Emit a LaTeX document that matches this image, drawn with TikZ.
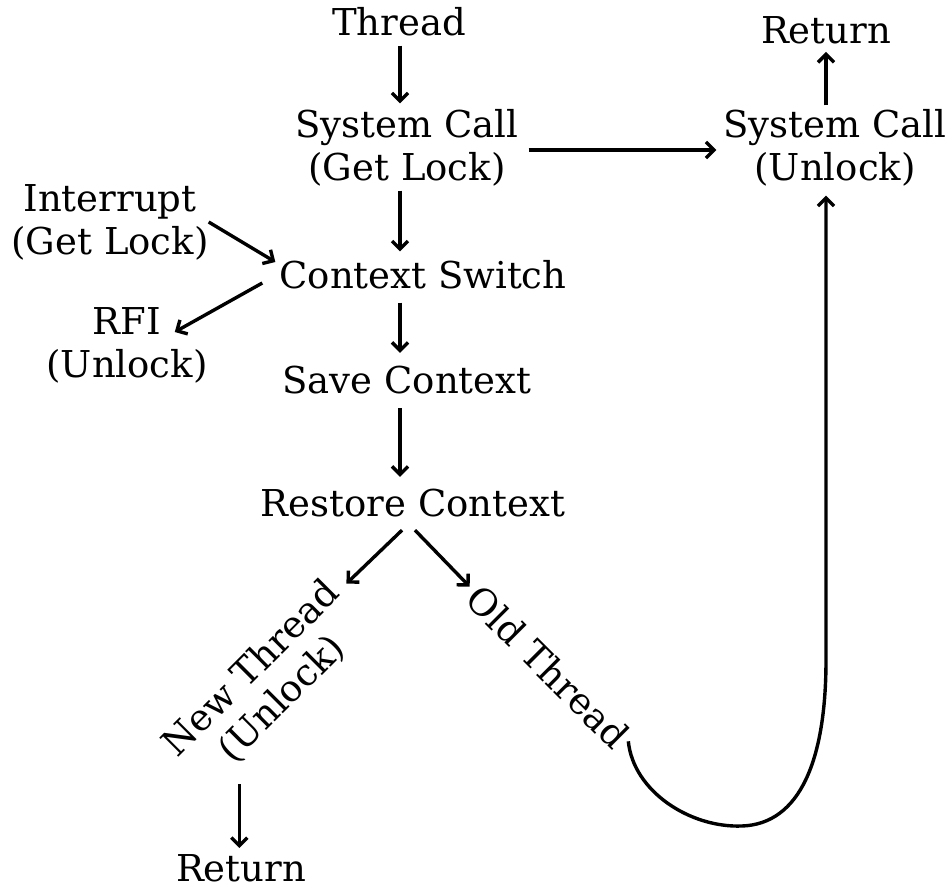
\documentclass[tikz,border=0pt]{standalone}
\usepackage{fontspec}
\setmainfont{DejaVu Serif}
\usetikzlibrary{arrows.meta}
\begin{document}
\begin{tikzpicture}[x=1pt,y=-1pt,
  lbl/.style={align=center,inner sep=2pt,font=\fontsize{37}{43}\selectfont},
  arr/.style={line width=3.4pt,-{Straight Barb[length=8pt,width=16pt,line width=3.4pt]}}]
\useasboundingbox (0,0) rectangle (951,890);
\node[lbl] (thread) at (399,22) {Thread};
\node[lbl] (scg) at (407,148) {System Call\\(Get Lock)};
\node[lbl] (scu) at (835,148) {System Call\\(Unlock)};
\node[lbl] (ret1) at (826,30) {Return};
\node[lbl] (intr) at (110,222) {Interrupt\\(Get Lock)};
\node[lbl] (cs) at (423,275) {Context Switch};
\node[lbl] (rfi) at (127,345) {RFI\\(Unlock)};
\node[lbl] (save) at (407,380) {Save Context};
\node[lbl] (rest) at (413,503) {Restore Context};
\node[lbl,rotate=45] (new) at (267,684) {New Thread\\(Unlock)};
\node[lbl,rotate=-45] (old) at (548,667) {Old Thread};
\node[lbl] (ret2) at (241,868) {Return};
\coordinate (nb) at ([xshift=27pt,yshift=12pt]new.south west);
\draw[arr] ([xshift=1pt,yshift=-7pt]thread.south) -- ([xshift=-7pt,yshift=4pt]scg.north);
\draw[arr] ([xshift=8pt,yshift=-2pt]scg.east) -- ([xshift=-5pt,yshift=-2pt]scu.west);
\draw[arr] ([xshift=-9pt,yshift=2pt]scu.north) -- ([yshift=-6pt]ret1.south);
\draw[arr] ([xshift=-7pt,yshift=-2pt]scg.south) -- ([xshift=-23pt,yshift=7pt]cs.north);
\draw[arr] ([xshift=-2pt]intr.east) -- ([xshift=-2pt,yshift=13pt]cs.west);
\draw[arr] ([xshift=-15pt,yshift=-8pt]cs.west) -- ([xshift=-35pt,yshift=13pt]rfi.east);
\draw[arr] ([xshift=-23pt,yshift=-11pt]cs.south) -- ([xshift=-7pt,yshift=11pt]save.north);
\draw[arr] ([xshift=-7pt,yshift=-12pt]save.south) -- ([xshift=-13pt,yshift=10pt]rest.north);
\draw[arr] ([xshift=-11pt,yshift=-11pt]rest.south) -- ([xshift=-4pt,yshift=17pt]new.east);
\draw[arr] ([xshift=2pt,yshift=-11pt]rest.south) -- ([xshift=-2pt,yshift=4pt]old.west);
\draw[arr] (nb) -- ([yshift=4pt]nb |- ret2.north);
\draw[arr] ([xshift=4pt,yshift=2pt]old.east) .. controls +(5,50) and (690,828) .. (742,826)
   .. controls (800,824) and (826,760) .. (826,660) -- ([xshift=-9pt,yshift=-7pt]scu.south);
\end{tikzpicture}
\end{document}
